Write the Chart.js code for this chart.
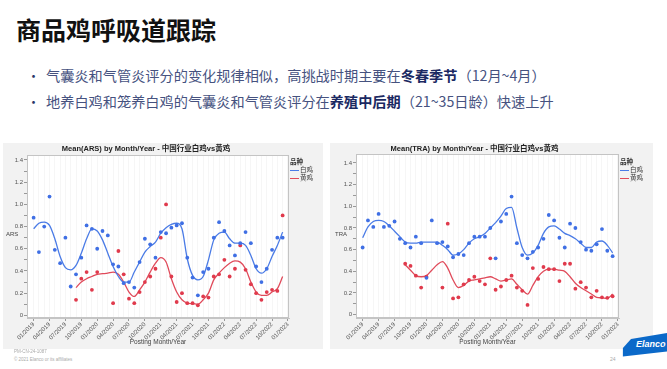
<!DOCTYPE html>
<html lang="zh">
<head>
<meta charset="UTF-8">
<title>商品鸡呼吸道跟踪</title>
<script src="https://cdn.jsdelivr.net/npm/chart.js"></script>
<style>
    body { margin: 0; background: #fff; font-family: "Noto Sans CJK SC", sans-serif; }
    .slide { position: relative; width: 667px; height: 369px; overflow: hidden; }
    h1 { position: absolute; left: 16px; top: 16px; margin: 0; font-size: 25px; line-height: 27px; font-weight: bold; color: #111; }
    .bullet { position: absolute; left: 27px; font-size: 14.2px; line-height: 18px; color: #46527f; white-space: nowrap; }
    .bullet .dot { display: inline-block; width: 19px; font-size: 13px; color: #2a3568; }
    .bullet b { color: #1b2962; }
    .panel { position: absolute; top: 143px; height: 206px; background: #f2f2f2; }
    .panel .box { position: absolute; left: 0; top: 0; width: 100%; height: 100%; }
    .ylab { position: absolute; top: 88px; font: 6px Arial, "Liberation Sans", sans-serif; color: #444; }
    .legend { position: absolute; top: 14px; font: 6.5px "Noto Sans CJK SC", sans-serif; color: #333; }
    .legend div { height: 8px; line-height: 8px; }
    .legend i { display: inline-block; width: 9px; height: 1.3px; vertical-align: middle; margin-right: 1px; }
    .foot { position: absolute; left: 14px; font: 4.5px Arial, sans-serif; color: #aaa; }
    .logo { position: absolute; left: 622px; top: 332px; width: 45px; height: 25px; background: #0b69c9;
            clip-path: polygon(2% 64%, 20% 28%, 100% 4%, 100% 78%, 2% 98%); }
    .logo span { position: absolute; left: 14px; top: 7px; font: italic bold 9px Arial, sans-serif; color: #fff; }
</style>
</head>
<body>
<div class="slide">
    <h1>商品鸡呼吸道跟踪</h1>
    <div class="bullet" style="top:66px"><span class="dot">•</span>气囊炎和气管炎评分的变化规律相似，高挑战时期主要在<b>冬春季节</b>（12月~4月）</div>
    <div class="bullet" style="top:92px"><span class="dot">•</span>地养白鸡和笼养白鸡的气囊炎和气管炎评分在<b>养殖中后期</b>（21~35日龄）快速上升</div>

    <div class="panel" style="left:3px;width:320px">
        <div class="box"><canvas id="arsChart"></canvas></div>
        <div class="ylab" style="left:3px">ARS</div>
        <div class="legend" style="left:287px">
            <div style="font-weight:bold">品种</div>
            <div><i style="background:#4a7be6"></i>白鸡</div>
            <div><i style="background:#e04a5a"></i>黄鸡</div>
        </div>
    </div>

    <div class="panel" style="left:330px;width:323px">
        <div class="box"><canvas id="traChart"></canvas></div>
        <div class="ylab" style="left:5px">TRA</div>
        <div class="legend" style="left:290px">
            <div style="font-weight:bold">品种</div>
            <div><i style="background:#4a7be6"></i>白鸡</div>
            <div><i style="background:#e04a5a"></i>黄鸡</div>
        </div>
    </div>

    <div class="foot" style="top:349px">PM-CN-24-1087</div>
    <div class="foot" style="top:357px">© 2021 Elanco or its affiliates</div>
    <div class="foot" style="left:610px;top:356px;font-size:5px">24</div>
    <div class="logo"><span>Elanco</span></div>
</div>

<script>
    // month index 0 = 01/2019 ... 47 = 12/2022
    const xTickLabels = ['01/2019', '04/2019', '07/2019', '10/2019', '01/2020', '04/2020', '07/2020', '10/2020',
        '01/2021', '04/2021', '07/2021', '10/2021', '01/2022', '04/2022', '07/2022', '10/2022', '01/2023'];
    const yTickLabels = ['0', '0.2', '0.4', '0.6', '0.8', '1.0', '1.2', '1.4'];

    // ARS monthly means
    const arsWhite = [0.88, 0.57, 0.80, 1.07, 0.59, 0.47, 0.70, 0.26, 0.37, 0.52, 0.81, 0.78, 0.60, 0.76, 0.72, 0.46,
        0.44, 0.29, 0.30, 0.25, 0.48, 0.69, 0.64, 0.52, 0.75, 0.74, 0.79, 0.81, 0.83, 0.52, 0.34, 0.18,
        0.39, 0.42, 0.70, 0.84, 0.76, 0.63, 0.54, 0.65, 0.75, 0.65, 0.44, 0.30, 0.42, 0.59, 0.70, 0.70];
    const arsYellow = [null, null, null, null, null, null, null, null, 0.14, 0.33, 0.39, 0.23, 0.39, null, null, 0.11,
        0.58, 0.37, 0.15, 0.11, 0.21, 0.30, 0.35, 0.42, 0.70, 1.00, 0.35, 0.12, 0.20, 0.11, 0.11, 0.09,
        0.17, 0.16, 0.35, 0.37, 0.50, 0.35, 0.42, 0.63, 0.41, 0.28, 0.20, 0.14, 0.21, 0.23, 0.22, 0.90];
    // ARS smoother curves
    const arsWhiteFit = [0.78, 0.83, 0.84, 0.81, 0.69, 0.53, 0.43, 0.41, 0.45, 0.56, 0.69, 0.78, 0.76, 0.68, 0.56, 0.44,
        0.35, 0.30, 0.30, 0.39, 0.48, 0.57, 0.62, 0.66, 0.74, 0.79, 0.82, 0.83, 0.78, 0.51, 0.36, 0.32,
        0.35, 0.50, 0.68, 0.74, 0.75, 0.69, 0.65, 0.65, 0.63, 0.54, 0.42, 0.38, 0.42, 0.53, 0.63, 0.75];
    const arsYellowFit = [null, null, null, null, null, null, null, null, 0.25, 0.30, 0.33, 0.35, 0.37, 0.375, 0.38, 0.39,
        0.37, 0.30, 0.21, 0.17, 0.23, 0.30, 0.39, 0.47, 0.52, 0.48, 0.33, 0.21, 0.14, 0.11, 0.105, 0.10,
        0.14, 0.20, 0.32, 0.38, 0.43, 0.47, 0.49, 0.48, 0.42, 0.30, 0.21, 0.18, 0.18, 0.21, 0.24, 0.35];

    // TRA monthly means
    const traWhite = [0.62, 0.87, 0.81, 0.93, 0.81, 0.82, 0.86, 0.70, 0.66, 0.62, 0.72, 0.66, 0.34, 0.87, 0.66, 0.67,
        0.63, 0.53, 0.56, 0.55, 0.66, 0.72, 0.72, 0.72, 0.80, 0.52, 0.86, 0.93, 1.09, 0.66, 0.55, 0.52,
        0.58, 0.62, 0.70, 0.92, 0.87, 0.71, 0.62, 0.84, 0.80, 0.67, 0.60, 0.59, 0.65, 0.79, 0.59, 0.54];
    const traYellow = [null, null, null, null, null, null, null, null, 0.47, 0.45, 0.36, 0.25, 0.35, null, null, 0.25,
        0.84, 0.15, 0.16, 0.28, 0.32, 0.35, 0.31, 0.28, 0.52, 0.23, 0.26, 0.32, 0.36, 0.25, 0.22, 0.09,
        0.43, 0.33, 0.44, 0.42, 0.42, 0.31, 0.47, 0.47, 0.24, 0.30, 0.25, 0.16, 0.22, 0.16, 0.155, 0.17];
    // TRA smoother curves
    const traWhiteFit = [0.71, 0.81, 0.86, 0.87, 0.86, 0.82, 0.77, 0.72, 0.67, 0.66, 0.66, 0.67, 0.67, 0.67, 0.67, 0.64,
        0.60, 0.55, 0.56, 0.60, 0.66, 0.70, 0.72, 0.75, 0.80, 0.85, 0.91, 0.98, 0.99, 0.80, 0.62, 0.55,
        0.57, 0.64, 0.75, 0.81, 0.82, 0.79, 0.75, 0.73, 0.70, 0.66, 0.62, 0.62, 0.67, 0.68, 0.64, 0.57];
    const traYellowFit = [null, null, null, null, null, null, null, null, 0.46, 0.41, 0.36, 0.35, 0.36, 0.41, 0.46, 0.49,
        0.43, 0.32, 0.25, 0.27, 0.31, 0.32, 0.33, 0.34, 0.35, 0.33, 0.31, 0.32, 0.33, 0.28, 0.23, 0.19,
        0.27, 0.35, 0.40, 0.42, 0.42, 0.41, 0.40, 0.35, 0.29, 0.25, 0.22, 0.19, 0.16, 0.155, 0.15, 0.19];

    const BLUE = '#4a7be6', BLUE_PT = '#3f6fe4';
    const RED = '#e04a5a', RED_PT = '#e03a4c';
    Chart.defaults.font.family = 'Arial, "Liberation Sans", "Noto Sans CJK SC", sans-serif';

    function toPoints(arr) {
        return arr.map((v, i) => ({ x: i, y: v })).filter(p => p.y !== null);
    }

    // white plot area + grey frame like the JMP output
    const frame = {
        id: 'frame',
        beforeDraw(chart) {
            const a = chart.chartArea, ctx = chart.ctx;
            ctx.save();
            ctx.fillStyle = '#fff';
            ctx.fillRect(a.left, a.top, a.right - a.left, a.bottom - a.top);
            ctx.restore();
        },
        afterDraw(chart) {
            const a = chart.chartArea, ctx = chart.ctx;
            ctx.save();
            ctx.strokeStyle = '#c4c4c4';
            ctx.lineWidth = 1;
            ctx.strokeRect(Math.round(a.left) + 0.5, Math.round(a.top) + 0.5,
                Math.round(a.right - a.left) - 1, Math.round(a.bottom - a.top) - 1);
            ctx.restore();
        }
    };

    function makeChart(id, title, white, yellow, whiteFit, yellowFit, o) {
        const monthTicks = Array.from({ length: 49 }, (_, i) => ({ value: i }));
        const yTicks = Array.from({ length: 15 }, (_, i) => ({ value: i / 10 }));
        return new Chart(document.getElementById(id), {
            type: 'scatter',
            data: {
                datasets: [
                    { label: '白鸡', data: toPoints(white), backgroundColor: BLUE_PT, borderColor: BLUE_PT, pointRadius: 1.9, borderWidth: 0, order: 1 },
                    { label: '黄鸡', data: toPoints(yellow), backgroundColor: RED_PT, borderColor: RED_PT, pointRadius: 1.9, borderWidth: 0, order: 2 },
                    { label: '白鸡 fit', data: toPoints(whiteFit), showLine: true, borderColor: BLUE, borderWidth: 1.3, pointRadius: 0, cubicInterpolationMode: 'monotone', order: 3 },
                    { label: '黄鸡 fit', data: toPoints(yellowFit), showLine: true, borderColor: RED, borderWidth: 1.3, pointRadius: 0, cubicInterpolationMode: 'monotone', order: 4 }
                ]
            },
            options: {
                responsive: true,
                maintainAspectRatio: false,
                animation: false,
                layout: { padding: { left: 0, right: o.right, top: 0, bottom: 0 } },
                plugins: {
                    legend: { display: false },
                    tooltip: { enabled: false },
                    title: {
                        display: true, text: title, color: '#222',
                        font: { size: 7.5, weight: 'bold' },
                        padding: { top: 1, bottom: o.titleGap }
                    }
                },
                scales: {
                    x: {
                        type: 'linear', min: -1.25, max: 48.2,
                        afterBuildTicks: s => { s.ticks = monthTicks; },
                        afterFit: s => { s.height = 31; },
                        ticks: {
                            autoSkip: false, minRotation: 45, maxRotation: 45, padding: 0,
                            font: { size: 6 }, color: '#555',
                            callback: v => (v % 3 === 0 ? xTickLabels[v / 3] : '')
                        },
                        grid: {
                            color: '#f6f6f6', tickLength: 3,
                            tickColor: c => (c.tick && c.tick.value % 3 === 0 ? '#999' : 'rgba(0,0,0,0)')
                        },
                        border: { color: '#c4c4c4' },
                        title: { display: true, text: 'Posting Month/Year', color: '#444', font: { size: 6.5 }, padding: { top: 0, bottom: 3 } }
                    },
                    y: {
                        min: o.ymin, max: o.ymax,
                        afterBuildTicks: s => { s.ticks = yTicks; },
                        afterFit: s => { s.width = o.yw; },
                        ticks: {
                            autoSkip: false, padding: 1, font: { size: 6 }, color: '#555',
                            callback: v => {
                                const k = Math.round(v * 10);
                                return k % 2 === 0 ? yTickLabels[k / 2] : '';
                            }
                        },
                        grid: { drawOnChartArea: false, tickLength: 3, tickColor: '#999' },
                        border: { color: '#c4c4c4' }
                    }
                }
            },
            plugins: [frame]
        });
    }

    makeChart('arsChart', 'Mean(ARS) by Month/Year - 中国行业白鸡vs黄鸡', arsWhite, arsYellow, arsWhiteFit, arsYellowFit,
        { right: 34, yw: 24, ymin: -0.024, ymax: 1.445, titleGap: 2 });
    makeChart('traChart', 'Mean(TRA) by Month/Year - 中国行业白鸡vs黄鸡', traWhite, traYellow, traWhiteFit, traYellowFit,
        { right: 34, yw: 26, ymin: -0.031, ymax: 1.483, titleGap: 1 });
</script>
</body>
</html>
